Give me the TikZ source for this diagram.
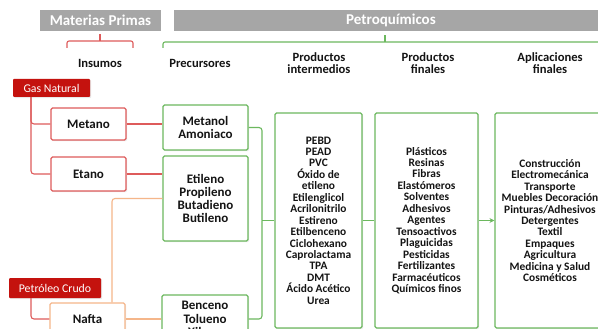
\documentclass[tikz,border=0pt]{standalone}
\usepackage{fontspec}
\setmainfont{Carlito}
\usetikzlibrary{shadows,arrows.meta}
\definecolor{redl}{HTML}{DE5B5B}
\definecolor{redf}{HTML}{C4120E}
\definecolor{greenl}{HTML}{6CB85E}
\definecolor{orangel}{HTML}{F5B68A}
\definecolor{greyb}{HTML}{A6A6A6}
\definecolor{txt}{HTML}{141414}
\tikzset{
  shad/.style={drop shadow={opacity=0.18,shadow xshift=1.2pt,shadow yshift=-1.2pt}},
  rbox/.style={draw=redl,line width=1.1pt,fill=white,rounded corners=1.5pt,shad,font=\fontsize{13}{13.3}\selectfont\bfseries,text=txt,align=center,inner sep=0pt},
  gbox/.style={draw=greenl,line width=1.1pt,fill=white,rounded corners=1.5pt,shad,font=\fontsize{13}{13.3}\selectfont\bfseries,text=txt,align=center,inner sep=0pt},
  obox/.style={draw=orangel,line width=1.1pt,fill=white,rounded corners=1.5pt,shad,font=\fontsize{13}{13.3}\selectfont\bfseries,text=txt,align=center,inner sep=0pt},
  listbox/.style={gbox,font=\fontsize{11.4}{11.45}\selectfont\bfseries},
  srcbox/.style={fill=redf,rounded corners=1pt,shad,text=white,font=\fontsize{11.8}{12}\selectfont,inner sep=0pt},
  banner/.style={fill=greyb,text=white,font=\fontsize{15}{15}\selectfont\bfseries,inner sep=0pt},
  header/.style={text=txt,font=\fontsize{12.6}{12.2}\selectfont\bfseries,align=center,inner sep=0pt},
  rl/.style={draw=redl,line width=1.1pt,rounded corners=3pt},
  gl/.style={draw=greenl,line width=1.1pt,rounded corners=3pt},
  ol/.style={draw=orangel,line width=1.1pt,rounded corners=3pt},
}
\begin{document}
\begin{tikzpicture}[x=1pt,y=-1pt]
\useasboundingbox (0,0) rectangle (598,329);
\clip (0,0) rectangle (598,329);
\fill[white] (0,0) rectangle (598,329);
% banners
\node[banner,minimum width=121pt,minimum height=21pt] (mp) at (100.5,20.5) {Materias Primas};
\node[banner,minimum width=434pt,minimum height=21pt] (pq) at (391,20.5) {Petroquímicos};
% braces
\draw[rl,rounded corners=2pt] (67,48) -- (67,41) -- (133,41) -- (133,48);
\draw[rl] (100,41) -- (100,34);
\draw[gl,rounded corners=2pt] (163,48) -- (163,42) -- (620,42);
\draw[gl] (385,42) -- (385,35);
% headers
\node[header] (h1) at (100,63) {Insumos};
\node[header] (h2) at (200,63) {Precursores};
\node[header] (h3) at (319,63) {Productos\\intermedios};
\node[header] (h4) at (428,63) {Productos\\finales};
\node[header] (h5) at (550,63) {Aplicaciones\\finales};
% sources
\node[srcbox,minimum width=77pt,minimum height=18pt] (gas) at (51.5,88) {Gas Natural};
\node[srcbox,minimum width=92pt,minimum height=20pt] (petro) at (55,288) {Petróleo Crudo};
% insumos
\node[rbox,minimum width=75pt,minimum height=32pt] (metano) at (88.5,124) {Metano};
\node[rbox,minimum width=75pt,minimum height=34pt] (etano) at (88.5,174) {Etano};
\node[obox,minimum width=75pt,minimum height=32pt] (nafta) at (87.5,319) {Nafta};
% precursores
\node[gbox,minimum width=85pt,minimum height=45pt] (metanol) at (205.5,127.5) {Metanol\\Amoniaco};
\node[gbox,minimum width=85pt,minimum height=85pt] (etileno) at (205.5,198.5) {Etileno\\Propileno\\Butadieno\\Butileno};
\node[gbox,minimum width=86pt,minimum height=48pt] (benceno) at (205,319) {Benceno\\Tolueno\\Xileno};
% lists
\node[listbox,minimum width=87pt,minimum height=215pt] (inter) at (318.5,220.5) {PEBD\\PEAD\\PVC\\Óxido de\\etileno\\Etilenglicol\\Acrilonitrilo\\Estireno\\Etilbenceno\\Ciclohexano\\Caprolactama\\TPA\\DMT\\Ácido Acético\\Urea};
\node[listbox,minimum width=103pt,minimum height=215pt] (final) at (426.5,220.5) {Plásticos\\Resinas\\Fibras\\Elastómeros\\Solventes\\Adhesivos\\Agentes\\Tensoactivos\\Plaguicidas\\Pesticidas\\Fertilizantes\\Farmacéuticos\\Químicos finos};
\node[listbox,minimum width=110pt,minimum height=215pt] (app) at (550,220.5) {Construcción\\Electromecánica\\Transporte\\Muebles Decoración\\Pinturas/Adhesivos\\Detergentes\\Textil\\Empaques\\Agricultura\\Medicina y Salud\\Cosméticos};
% connectors
\coordinate (rx) at (31,0);
\coordinate (ox) at (112,0);
\coordinate (gx) at (262,0);
\draw[rl] (gas.south -| rx) |- (metano.west);
\draw[rl] (gas.south -| rx) |- (etano.west);
\draw[rl] (petro.south -| rx) |- (nafta.west);
\draw[rl,rounded corners=0pt] (metano.east) -- (metano.east -| metanol.west);
\draw[rl,rounded corners=0pt] (etano.east) -- (etano.east -| etileno.west);
\draw[ol,rounded corners=0pt] (nafta.east) -- (nafta.east -| benceno.west);
\draw[ol] (nafta.north -| ox) |- (etileno.west);
\draw[gl] (metanol.east) -| (gx |- inter.west);
\draw[gl] (benceno.east) -| (gx |- inter.west);
\draw[gl,rounded corners=0pt] (gx |- inter.west) -- (inter.west);
\draw[gl] (inter.east) -- (final.west);
\draw[gl,-{Stealth[length=5pt,width=5pt]}] (final.east) -- (app.west);
\end{tikzpicture}
\end{document}
